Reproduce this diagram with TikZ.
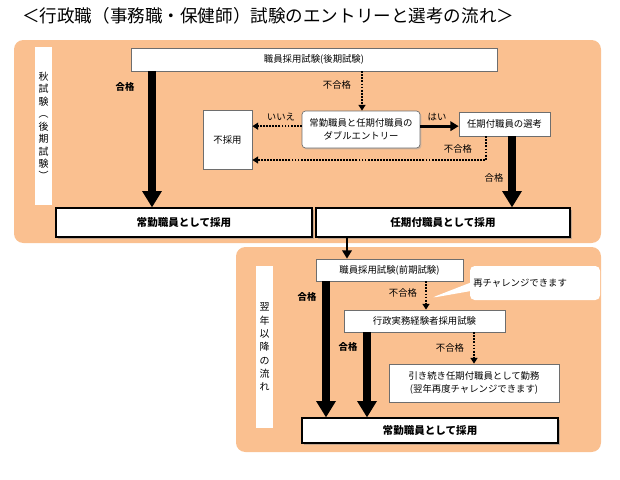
\documentclass[tikz,border=0pt]{standalone}
\usepackage{fontspec}
\setmainfont{Noto Sans CJK JP}
\usepackage{tikz}
\usetikzlibrary{arrows.meta, positioning, shapes.callouts, shadows, calc}
\definecolor{panelorange}{RGB}{250,192,144}
\definecolor{boxgray}{RGB}{110,110,110}
\tikzstyle{panel} = [rounded corners=8pt, fill=panelorange]
\tikzstyle{vlabel} = [rectangle, fill=white, inner sep=0pt, minimum width=0.51cm, align=center, font=\fontsize{8.5pt}{10.6pt}\selectfont]
\tikzstyle{process} = [rectangle, draw=boxgray, line width=0.6pt, fill=white, inner sep=0pt, align=center, font=\fontsize{8pt}{10.5pt}\selectfont, drop shadow={shadow xshift=1.2pt, shadow yshift=-1.2pt, fill=black!35}]
\tikzstyle{result} = [rectangle, draw=black, line width=1pt, fill=white, inner sep=0pt, font=\bfseries\fontsize{9pt}{11pt}\selectfont, minimum width=7.68cm, minimum height=0.87cm, drop shadow={shadow xshift=1.5pt, shadow yshift=-1.5pt, fill=black!45}]
\tikzstyle{passarrow} = [line width=6pt, -{Triangle[width=16pt,length=14pt]}]
\tikzstyle{failarrow} = [line width=1.6pt, densely dotted, -{Triangle[width=6pt,length=5pt]}]
\tikzstyle{arrow} = [line width=2.5pt, -{Triangle[width=8pt,length=7pt]}]
\tikzstyle{lbl} = [inner sep=0pt, font=\fontsize{8pt}{10pt}\selectfont]
\tikzstyle{boldlbl} = [inner sep=0pt, font=\bfseries\fontsize{8pt}{10pt}\selectfont]

\begin{document}
\begin{tikzpicture}
    \useasboundingbox (0,0) rectangle (18.6,-14.37);
    % Titulo
    \node (title) [anchor=west, inner sep=0pt, font=\fontsize{15pt}{18pt}\selectfont] at (0.66,-0.48) {＜行政職（事務職・保健師）試験のエントリーと選考の流れ＞};

    % Paneles
    \fill[panel] (0.42,-1.2) rectangle (18.03,-7.29);
    \fill[panel] (7.08,-7.41) rectangle (18.03,-13.56);
    \node (autumn) [vlabel, minimum height=4.74cm] at (1.305,-3.78) {秋\\試\\験\\︵\\後\\期\\試\\験\\︶};
    \node (later) [vlabel, minimum height=4.86cm, font=\fontsize{8.5pt}{11.4pt}\selectfont] at (7.935,-10.41) {翌\\年\\以\\降\\の\\流\\れ};

    % Otono
    \node (exam1) [process, minimum width=10.98cm, minimum height=0.69cm] at (9.42,-1.785) {職員採用試験(後期試験)};
    \node (double) [process, rounded corners=3pt, minimum width=3.54cm, minimum height=1.11cm] at (10.83,-3.885) {常勤職員と任期付職員の\\ダブルエントリー};
    \node (select) [process, minimum width=2.73cm, minimum height=0.72cm] at (15.135,-3.72) {任期付職員の選考};
    \node (reject) [process, minimum width=1.47cm, minimum height=1.77cm] at (6.825,-4.185) {不採用};
    \node (full1) [result] at (5.52,-6.675) {常勤職員として採用};
    \node (fixed1) [result, minimum width=7.62cm] at (13.29,-6.675) {任期付職員として採用};

    % Siguiente ano
    \node (exam2) [process, minimum width=4.41cm, minimum height=0.66cm] at (11.685,-8.1) {職員採用試験(前期試験)};
    \node (exam3) [process, minimum width=4.83cm, minimum height=0.66cm] at (12.735,-9.63) {行政実務経験者採用試験};
    \node (keep) [process, minimum width=5.1cm, minimum height=1.14cm] at (14.22,-11.49) {引き続き任期付職員として勤務\\(翌年再度チャレンジできます)};
    \node (full2) [result, minimum height=0.75cm] at (12.9,-12.915) {常勤職員として採用};
    \node (retry) [rectangle callout, rounded corners=4pt, fill=white, inner sep=0pt, minimum width=3.9cm, minimum height=1.02cm, text width=3.7cm, align=left, font=\fontsize{8pt}{10pt}\selectfont, callout absolute pointer={(12.93,-8.94)}] at (16.05,-8.49) {再チャレンジできます};

    % Flechas otono
    \draw[passarrow] ([xshift=-4.86cm]exam1.south) -- ([xshift=-4.86cm]exam1.south |- full1.north);
    \draw[failarrow] ([xshift=1.44cm]exam1.south) -- ([xshift=1.44cm]exam1.south |- double.north);
    \draw[failarrow] ([yshift=0.1cm]double.west) -- ([yshift=0.1cm]double.west -| reject.east);
    \draw[arrow] ([yshift=0.1cm]double.east) -- ([yshift=0.1cm]double.east -| select.west);
    \draw[failarrow] ([xshift=-0.555cm]select.south) |- ([yshift=-0.615cm]reject.east);
    \draw[passarrow] ([xshift=0.225cm]select.south) -- ([xshift=0.225cm]select.south |- fixed1.north);
    \draw[arrow] ([xshift=-2.88cm]fixed1.south) -- ([xshift=-2.88cm]fixed1.south |- exam2.north);

    % Flechas siguiente ano
    \draw[passarrow] ([xshift=-1.905cm]exam2.south) -- ([xshift=-1.905cm]exam2.south |- full2.north);
    \draw[failarrow] ([xshift=1.095cm]exam2.south) -- ([xshift=1.095cm]exam2.south |- exam3.north);
    \draw[passarrow] ([xshift=-1.725cm]exam3.south) -- ([xshift=-1.725cm]exam3.south |- full2.north);
    \draw[failarrow] ([xshift=1.485cm]exam3.south) -- ([xshift=1.485cm]exam3.south |- keep.north);

    % Etiquetas
    \node (pass1) [boldlbl] at (3.75,-2.61) {合格};
    \node (fail1) [lbl] at (10.11,-2.55) {不合格};
    \node (no) [lbl] at (8.43,-3.51) {いいえ};
    \node (yes) [lbl] at (13.11,-3.51) {はい};
    \node (fail2) [lbl] at (13.74,-4.47) {不合格};
    \node (pass2) [lbl] at (14.82,-5.34) {合格};
    \node (pass3) [boldlbl] at (9.21,-8.91) {合格};
    \node (fail3) [lbl] at (12.09,-8.79) {不合格};
    \node (pass4) [boldlbl] at (10.44,-10.41) {合格};
    \node (fail4) [lbl] at (13.5,-10.44) {不合格};
\end{tikzpicture}
\end{document}
